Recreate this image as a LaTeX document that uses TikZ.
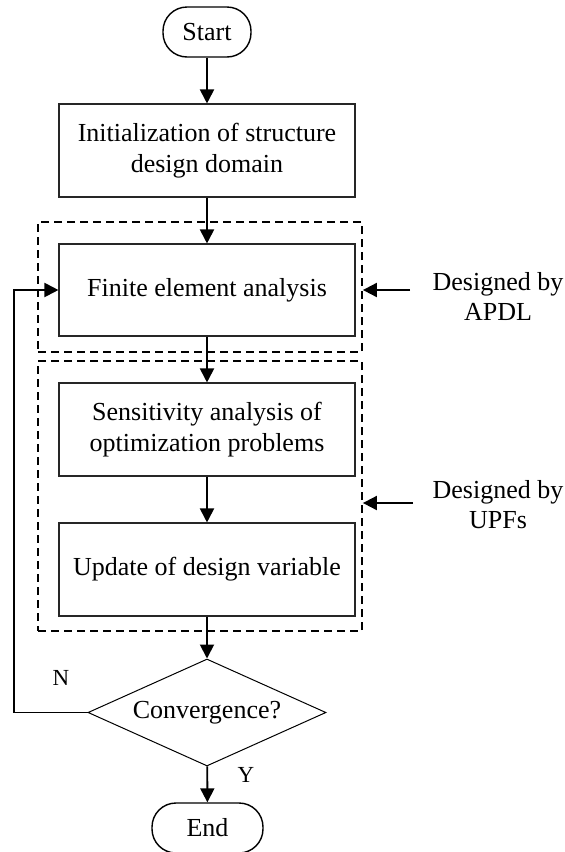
\documentclass[tikz,border=0pt]{standalone}
\usepackage{fontspec}
\setmainfont{Liberation Serif}
\usetikzlibrary{arrows.meta,shapes.geometric}
\begin{document}
\begin{tikzpicture}[x=1pt,y=-1pt,
  every node/.style={font=\fontsize{26}{31}\selectfont},
  procbox/.style={draw=black!85,line width=1.1pt,minimum width=296pt,minimum height=93pt,align=center,inner sep=2pt},
  termbox/.style={draw=black,line width=1.4pt,rounded corners=24pt,minimum height=50pt},
  decbox/.style={diamond,draw=black,line width=1pt,minimum width=238pt,minimum height=107pt,aspect=2.22,inner sep=0pt},
  groupbox/.style={draw=black,line width=1.8pt,dash pattern=on 8pt off 5pt,inner sep=0pt},
  flow/.style={line width=1.9pt,-{Triangle[length=14pt,width=14pt]}},
  lbl/.style={font=\fontsize{23}{27}\selectfont},
  side/.style={align=center,font=\fontsize{26}{30}\selectfont}]
\useasboundingbox (0,0) rectangle (565,852);
% terminals and steps
\node[termbox,minimum width=88pt] (start) at (207,32) {Start};
\node[procbox] (init) at (207,150.5) {Initialization of structure\\design domain};
\node[procbox,minimum height=92pt] (fea) at (207,290) {Finite element analysis};
\node[procbox] (sens) at (207,429.5) {Sensitivity analysis of\\optimization problems};
\node[procbox] (upd) at (207,569.5) {Update of design variable};
\node[decbox] (conv) at (207,712.5) {Convergence?};
\node[termbox,minimum width=111pt] (end) at (207.5,828) {End};
% dashed groups
\node[groupbox,minimum width=324pt,minimum height=130pt] (g1) at (200,287) {};
\node[groupbox,minimum width=324pt,minimum height=270pt] (g2) at (200,496) {};
% side notes
\node[side] (apdl) at (498,296) {Designed by\\APDL};
\node[side] (upfs) at (498,504.5) {Designed by\\UPFs};
\coordinate (a1) at (410,290);
\coordinate (a2) at (413,503);
\draw[flow] (a1) -- (a1 -| g1.east);
\draw[flow] (a2) -- (a2 -| g2.east);
% main flow
\draw[flow] (start) -- (init);
\draw[flow] (init) -- (fea);
\draw[flow] (fea) -- (sens);
\draw[flow] (sens) -- (upd);
\draw[flow] (upd) -- (conv);
\draw[flow] (conv) -- (end);
% feedback
\coordinate (fb) at (14,712.5);
\draw[flow] (conv.west) -- (fb) |- (fea.west);
\node[lbl] (n) at (61,678) {N};
\node[lbl] (y) at (246,775) {Y};
\end{tikzpicture}
\end{document}
